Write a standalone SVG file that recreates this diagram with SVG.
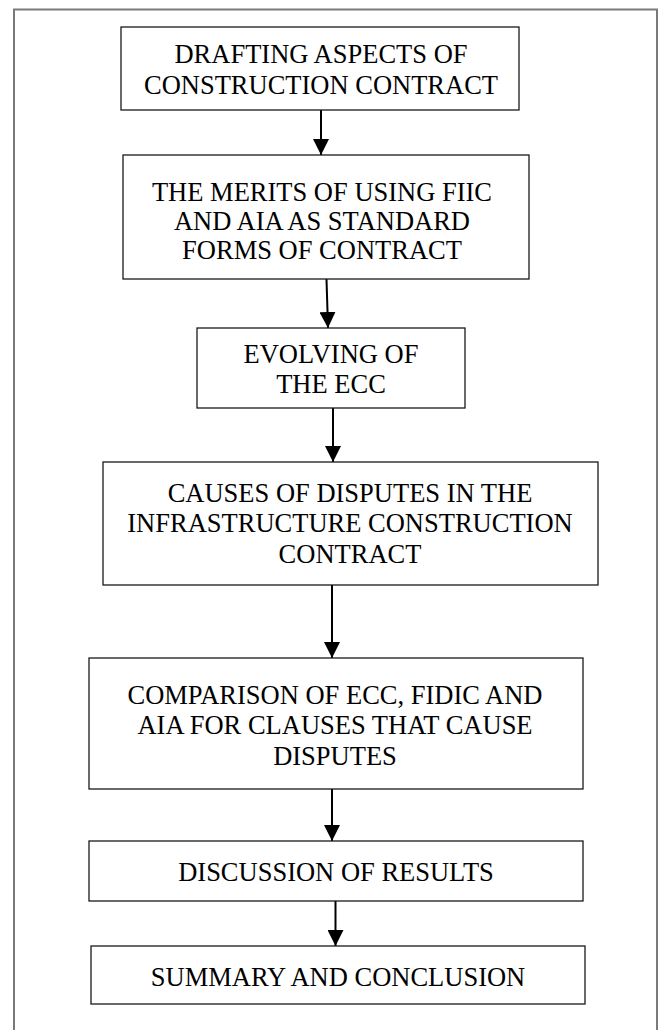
<svg xmlns="http://www.w3.org/2000/svg" width="662" height="1030" viewBox="0 0 662 1030">
<style>
.box{fill:#fff;stroke:#1a1a1a;stroke-width:1.3}
.t{font-family:"Liberation Serif","Times New Roman",serif;font-size:26.5px;fill:#000;text-anchor:middle}
.c{stroke:#000;stroke-width:2;fill:none;marker-end:url(#ah)}
</style>
<defs>
<marker id="ah" markerUnits="userSpaceOnUse" markerWidth="16" markerHeight="16" refX="16" refY="8" orient="auto">
<path d="M0,0 L16,8 L0,16 z" fill="#000"/>
</marker>
</defs>
<rect width="662" height="1030" fill="#fff"/>
<path d="M14,1032 V9.5 H657 V1032" fill="none" stroke="#7a7a7a" stroke-width="2"/>
<g id="connectors">
<line class="c" x1="321" y1="110" x2="321" y2="155"/>
<line class="c" x1="326.5" y1="279" x2="328" y2="328"/>
<line class="c" x1="333" y1="408" x2="333" y2="462"/>
<line class="c" x1="332" y1="585" x2="332" y2="658"/>
<line class="c" x1="332" y1="789" x2="332" y2="841"/>
<line class="c" x1="335.5" y1="901" x2="335.5" y2="946"/>
</g>
<g id="n1">
<rect class="box" x="121" y="27" width="398" height="83"/>
<text class="t" x="321" y="63">DRAFTING ASPECTS OF</text>
<text class="t" x="321" y="94">CONSTRUCTION CONTRACT</text>
</g>
<g id="n2">
<rect class="box" x="123" y="155" width="406" height="124"/>
<text class="t" x="322" y="201">THE MERITS OF USING FIIC</text>
<text class="t" x="322" y="230">AND AIA AS STANDARD</text>
<text class="t" x="322" y="259">FORMS OF CONTRACT</text>
</g>
<g id="n3">
<rect class="box" x="197" y="328" width="268" height="80"/>
<text class="t" x="331" y="363">EVOLVING OF</text>
<text class="t" x="331" y="393">THE ECC</text>
</g>
<g id="n4">
<rect class="box" x="103" y="462" width="495" height="123"/>
<text class="t" x="350" y="502">CAUSES OF DISPUTES IN THE</text>
<text class="t" x="350" y="532">INFRASTRUCTURE CONSTRUCTION</text>
<text class="t" x="350" y="563">CONTRACT</text>
</g>
<g id="n5">
<rect class="box" x="89" y="658" width="494" height="131"/>
<text class="t" x="335" y="704">COMPARISON OF ECC, FIDIC AND</text>
<text class="t" x="335" y="734">AIA FOR CLAUSES THAT CAUSE</text>
<text class="t" x="335" y="765">DISPUTES</text>
</g>
<g id="n6">
<rect class="box" x="89" y="841" width="494" height="60"/>
<text class="t" x="336" y="881">DISCUSSION OF RESULTS</text>
</g>
<g id="n7">
<rect class="box" x="91" y="946" width="494" height="58"/>
<text class="t" x="338" y="986">SUMMARY AND CONCLUSION</text>
</g>
</svg>
